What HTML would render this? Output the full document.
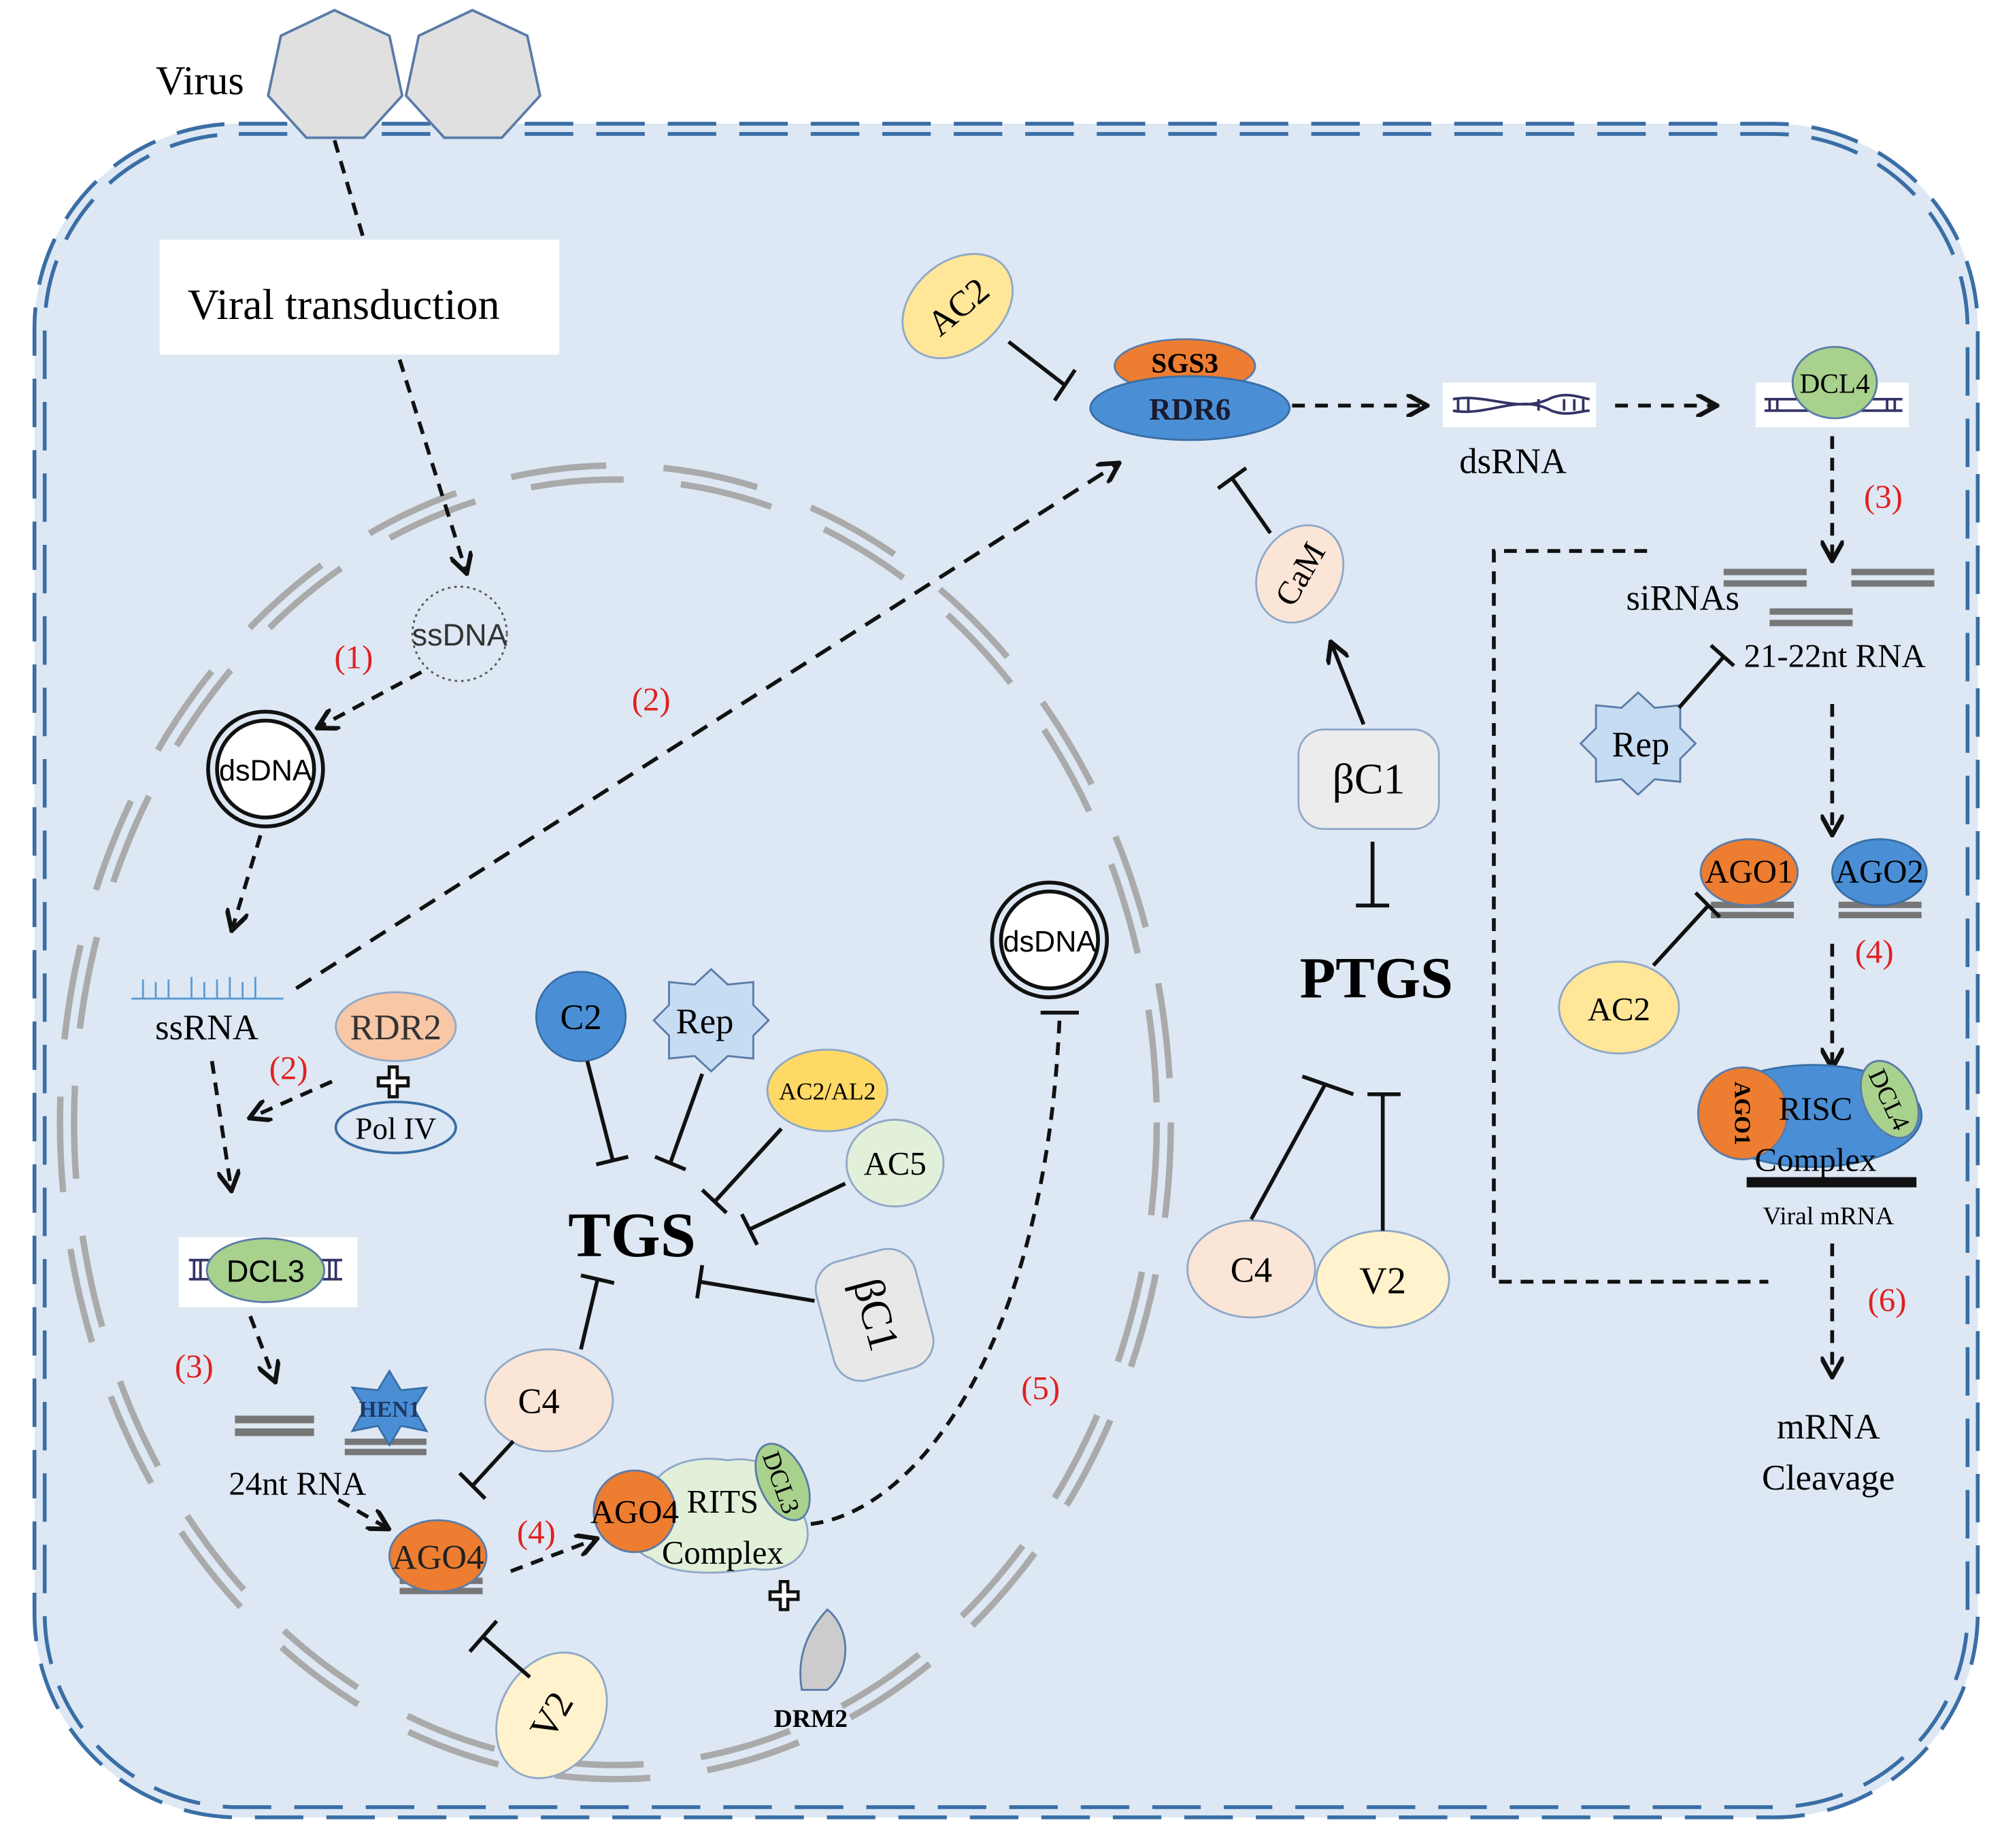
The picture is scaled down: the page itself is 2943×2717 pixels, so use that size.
<!DOCTYPE html>
<html><head><meta charset="utf-8"><style>
html,body{margin:0;padding:0;background:#fff;}
svg{display:block;}
text{font-family:"Liberation Serif",serif;}
</style></head><body>
<svg width="2943" height="2717" viewBox="0 0 1568 1449" preserveAspectRatio="none" xmlns="http://www.w3.org/2000/svg">
<defs>
<marker id="ar" viewBox="0 0 10 10" refX="8" refY="5" markerWidth="6" markerHeight="6" orient="auto"><path d="M0,0 L9,5 L0,10" fill="none" stroke="#111" stroke-width="2"/></marker>
</defs>
<!-- cell -->
<rect x="27" y="97" width="1522" height="1328" rx="160" fill="#dde8f4"/>
<rect x="27" y="97" width="1522" height="1328" rx="160" fill="none" stroke="#3a6ea5" stroke-width="3" stroke-dasharray="38 18"/>
<rect x="35" y="105" width="1506" height="1312" rx="152" fill="none" stroke="#3a6ea5" stroke-width="3" stroke-dasharray="38 18"/>
<!-- nucleus -->
<ellipse cx="482" cy="880" rx="435" ry="515" fill="none" stroke="#aaa" stroke-width="5" stroke-dasharray="75 45"/>
<ellipse cx="482" cy="880" rx="424" ry="504" fill="none" stroke="#aaa" stroke-width="5" stroke-dasharray="73 45"/>
<!-- virus -->
<polygon points="262,8 305,28 315,75 285,108 240,108 210,75 220,28" fill="#e0e0e0" stroke="#5a7ba8" stroke-width="2"/>
<polygon points="370,8 413,28 423,75 393,108 348,108 318,75 328,28" fill="#e0e0e0" stroke="#5a7ba8" stroke-width="2"/>
<text x="122" y="74" font-size="32">Virus</text>
<line x1="262" y1="110" x2="285" y2="188" stroke="#111" stroke-width="3" stroke-dasharray="10 7"/>
<rect x="125" y="188" width="313" height="90" fill="#fff"/>
<text x="147" y="250" font-size="34">Viral transduction</text>
<line x1="313" y1="282" x2="365" y2="448" stroke="#111" stroke-width="3" stroke-dasharray="10 7" marker-end="url(#ar)"/>
<circle cx="360" cy="497" r="37" fill="none" stroke="#555" stroke-width="1.5" stroke-dasharray="2 3"/>
<text x="360" y="506" font-size="24" text-anchor="middle" style="font-family:'Liberation Sans',sans-serif" fill="#333">ssDNA</text>
<text x="277" y="524" font-size="26" fill="#e02020" text-anchor="middle">(1)</text>
<line x1="330" y1="527" x2="250" y2="570" stroke="#111" stroke-width="3" stroke-dasharray="10 7" marker-end="url(#ar)"/>
<circle cx="208" cy="603" r="45" fill="none" stroke="#111" stroke-width="3"/>
<circle cx="208" cy="603" r="38" fill="#fff" stroke="#111" stroke-width="3"/>
<text x="208" y="612" font-size="23" text-anchor="middle" style="font-family:'Liberation Sans',sans-serif">dsDNA</text>
<line x1="204" y1="655" x2="182" y2="728" stroke="#111" stroke-width="3" stroke-dasharray="10 7" marker-end="url(#ar)"/>
<!-- ssRNA -->
<path d="M103,783 H222 M112,783 V768 M122,783 V770 M132,783 V768 M150,783 V766 M160,783 V770 M170,783 V768 M180,783 V766 M190,783 V770 M200,783 V766" stroke="#5b9bd5" stroke-width="1.5" fill="none"/>
<text x="162" y="815" font-size="28" text-anchor="middle">ssRNA</text>
<line x1="232" y1="775" x2="875" y2="364" stroke="#111" stroke-width="3" stroke-dasharray="14 9" marker-end="url(#ar)"/>
<text x="510" y="557" font-size="26" fill="#e02020" text-anchor="middle">(2)</text>
<ellipse cx="310" cy="805" rx="47" ry="27" fill="#f8c7a6" stroke="#8fa8c8" stroke-width="1.5"/>
<text x="310" y="815" font-size="28" text-anchor="middle" fill="#333">RDR2</text>
<text x="308" y="860" font-size="32" text-anchor="middle" font-weight="bold" fill="#fff" stroke="#111" stroke-width="1.5">✚</text>
<ellipse cx="310" cy="884" rx="47" ry="20" fill="#dde8f4" stroke="#3a6ea5" stroke-width="2"/>
<text x="310" y="893" font-size="24" text-anchor="middle">Pol IV</text>
<text x="226" y="846" font-size="26" fill="#e02020" text-anchor="middle">(2)</text>
<line x1="260" y1="848" x2="197" y2="876" stroke="#111" stroke-width="3" stroke-dasharray="10 7" marker-end="url(#ar)"/>
<line x1="166" y1="832" x2="181" y2="932" stroke="#111" stroke-width="3" stroke-dasharray="10 7" marker-end="url(#ar)"/>
<rect x="140" y="970" width="140" height="55" fill="#fff"/>
<path d="M148,988 H268 M148,1003 H268 M152,988 V1003 M157,988 V1003 M258,988 V1003 M263,988 V1003" stroke="#333366" stroke-width="2"/>
<ellipse cx="208" cy="996" rx="46" ry="25" fill="#a9d18e" stroke="#5a7ba8" stroke-width="1.5"/>
<text x="208" y="1005" font-size="24" text-anchor="middle" style="font-family:'Liberation Sans',sans-serif">DCL3</text>
<text x="152" y="1080" font-size="26" fill="#e02020" text-anchor="middle">(3)</text>
<line x1="196" y1="1032" x2="215" y2="1082" stroke="#111" stroke-width="3" stroke-dasharray="10 7" marker-end="url(#ar)"/>
<rect x="184" y="1110" width="62" height="6" fill="#777"/><rect x="184" y="1120" width="62" height="6" fill="#777"/>
<rect x="270" y="1128" width="64" height="5" fill="#777"/><rect x="270" y="1136" width="64" height="5" fill="#777"/>
<polygon points="305,1075 314,1090 334,1088 324,1104 334,1122 314,1118 305,1133 296,1118 276,1122 286,1104 276,1088 296,1090" fill="#4a8fd6" stroke="#3a6ea5" stroke-width="1.5"/>
<text x="305" y="1111" font-size="18" text-anchor="middle" font-weight="bold" fill="#1f3864">HEN1</text>
<text x="233" y="1172" font-size="26" text-anchor="middle">24nt RNA</text>
<line x1="265" y1="1176" x2="303" y2="1198" stroke="#111" stroke-width="3" stroke-dasharray="10 7" marker-end="url(#ar)"/>
<rect x="313" y="1237" width="65" height="5" fill="#777"/><rect x="313" y="1245" width="65" height="5" fill="#777"/>
<ellipse cx="343" cy="1220" rx="38" ry="28" fill="#ed7d31" stroke="#5a7ba8" stroke-width="1.5"/>
<text x="343" y="1230" font-size="27" text-anchor="middle" fill="#222">AGO4</text>
<text x="420" y="1210" font-size="26" fill="#e02020" text-anchor="middle">(4)</text>
<line x1="400" y1="1232" x2="466" y2="1207" stroke="#111" stroke-width="3" stroke-dasharray="10 7" marker-end="url(#ar)"/>
<!-- RITS -->
<path d="M505,1180 C510,1150 540,1140 570,1145 C600,1140 625,1160 630,1190 C640,1215 620,1235 590,1230 C560,1235 525,1235 510,1222 C490,1215 495,1195 505,1180Z" fill="#e2f0d9" stroke="#8fa8c8" stroke-width="1.5"/>
<circle cx="497" cy="1185" r="32" fill="#ed7d31" stroke="#5a7ba8" stroke-width="1.5"/>
<ellipse cx="613" cy="1162" rx="18" ry="32" transform="rotate(-25 613 1162)" fill="#a9d18e" stroke="#5a7ba8" stroke-width="1.5"/>
<text x="613" y="1170" font-size="20" text-anchor="middle" transform="rotate(70 613 1162)">DCL3</text>
<text x="497" y="1194" font-size="26" text-anchor="middle">AGO4</text>
<text x="566" y="1186" font-size="26" text-anchor="middle">RITS</text>
<text x="566" y="1226" font-size="26" text-anchor="middle">Complex</text>
<text x="614" y="1262" font-size="30" text-anchor="middle" font-weight="bold" fill="#fff" stroke="#111" stroke-width="1.5">✚</text>
<path d="M648,1262 A32,38 0 0 1 648,1325 L628,1325 Q622,1290 648,1262Z" fill="#ccc" stroke="#5a7ba8" stroke-width="1.5"/>
<text x="635" y="1354" font-size="20" text-anchor="middle" font-weight="bold">DRM2</text>
<path d="M635,1195 C720,1185 820,1050 830,795" fill="none" stroke="#111" stroke-width="3" stroke-dasharray="10 7"/>
<line x1="815" y1="794" x2="845" y2="794" stroke="#111" stroke-width="3"/>
<circle cx="822" cy="737" r="45" fill="none" stroke="#111" stroke-width="3"/>
<circle cx="822" cy="737" r="38" fill="#fff" stroke="#111" stroke-width="3"/>
<text x="822" y="746" font-size="23" text-anchor="middle" style="font-family:'Liberation Sans',sans-serif">dsDNA</text>
<text x="815" y="1097" font-size="26" fill="#e02020" text-anchor="middle">(5)</text>
<!-- V2 bottom -->
<ellipse cx="432" cy="1345" rx="40" ry="52" transform="rotate(30 432 1345)" fill="#fff2cc" stroke="#8fa8c8" stroke-width="1.5"/>
<text x="432" y="1355" font-size="30" text-anchor="middle" transform="rotate(-60 432 1345)">V2</text>
<line x1="415" y1="1315" x2="378" y2="1283" stroke="#111" stroke-width="3"/>
<line x1="368" y1="1295" x2="389" y2="1271" stroke="#111" stroke-width="3"/>
<!-- C4 nucleus -->
<ellipse cx="430" cy="1098" rx="50" ry="40" fill="#fbe5d6" stroke="#8fa8c8" stroke-width="1.5"/>
<text x="422" y="1108" font-size="28" text-anchor="middle">C4</text>
<line x1="455" y1="1058" x2="468" y2="1003" stroke="#111" stroke-width="3"/>
<line x1="455" y1="1000" x2="481" y2="1006" stroke="#111" stroke-width="3"/>
<line x1="402" y1="1130" x2="370" y2="1165" stroke="#111" stroke-width="3"/>
<line x1="360" y1="1155" x2="380" y2="1175" stroke="#111" stroke-width="3"/>
<text x="495" y="985" font-size="50" text-anchor="middle" font-weight="bold">TGS</text>
<!-- TGS suppressors -->
<circle cx="455" cy="797" r="35" fill="#4a8fd6" stroke="#3a6ea5" stroke-width="1.5"/>
<text x="455" y="807" font-size="28" text-anchor="middle">C2</text>
<line x1="460" y1="832" x2="480" y2="910" stroke="#111" stroke-width="3"/><line x1="467" y1="913" x2="492" y2="907" stroke="#111" stroke-width="3"/>
<polygon points="557,760 570,772 590,770 590,788 602,800 590,812 590,830 570,828 557,840 544,828 524,830 524,812 512,800 524,788 524,770 544,772" fill="#c5dcf2" stroke="#5a7ba8" stroke-width="1.5"/>
<text x="552" y="810" font-size="28" text-anchor="middle">Rep</text>
<line x1="550" y1="842" x2="525" y2="912" stroke="#111" stroke-width="3"/><line x1="513" y1="907" x2="537" y2="917" stroke="#111" stroke-width="3"/>
<ellipse cx="648" cy="855" rx="47" ry="32" fill="#ffd966" stroke="#8fa8c8" stroke-width="1.5"/>
<text x="648" y="862" font-size="19" text-anchor="middle">AC2/AL2</text>
<line x1="612" y1="885" x2="560" y2="942" stroke="#111" stroke-width="3"/><line x1="550" y1="933" x2="569" y2="951" stroke="#111" stroke-width="3"/>
<ellipse cx="701" cy="912" rx="38" ry="34" fill="#e2f0d9" stroke="#8fa8c8" stroke-width="1.5"/>
<text x="701" y="921" font-size="26" text-anchor="middle">AC5</text>
<line x1="662" y1="928" x2="587" y2="964" stroke="#111" stroke-width="3"/><line x1="581" y1="952" x2="593" y2="976" stroke="#111" stroke-width="3"/>
<rect x="645" y="983" width="80" height="96" rx="22" transform="rotate(-15 685 1031)" fill="#e8e8e8" stroke="#8fa8c8" stroke-width="1.5"/>
<text x="685" y="1041" font-size="34" text-anchor="middle" transform="rotate(75 685 1031)">βC1</text>
<line x1="638" y1="1020" x2="548" y2="1005" stroke="#111" stroke-width="3"/><line x1="550" y1="992" x2="546" y2="1018" stroke="#111" stroke-width="3"/>
<!-- RDR6 -->
<ellipse cx="750" cy="240" rx="35" ry="48" transform="rotate(50 750 240)" fill="#ffe699" stroke="#8fa8c8" stroke-width="1.5"/>
<text x="750" y="250" font-size="28" text-anchor="middle" transform="rotate(-40 750 240)">AC2</text>
<line x1="790" y1="268" x2="834" y2="302" stroke="#111" stroke-width="3"/><line x1="826" y1="314" x2="842" y2="290" stroke="#111" stroke-width="3"/>
<ellipse cx="928" cy="287" rx="55" ry="21" fill="#ed7d31" stroke="#5a7ba8" stroke-width="1.5"/>
<ellipse cx="932" cy="320" rx="78" ry="25" fill="#4a8fd6" stroke="#3a6ea5" stroke-width="1.5"/>
<text x="928" y="292" font-size="22" text-anchor="middle" font-weight="bold">SGS3</text>
<text x="932" y="329" font-size="24" text-anchor="middle" font-weight="bold" fill="#1a1a2e">RDR6</text>
<line x1="1012" y1="318" x2="1116" y2="318" stroke="#111" stroke-width="3" stroke-dasharray="10 8" marker-end="url(#ar)"/>
<rect x="1130" y="300" width="120" height="35" fill="#fff"/>
<path d="M1138,313 C1165,308 1190,325 1215,312 C1228,307 1238,312 1245,313 M1138,322 C1165,327 1190,308 1215,322 C1228,327 1238,322 1245,322 M1142,313 V322 M1150,313 V322 M1205,313 V322 M1225,313 V322 M1233,313 V322 M1240,313 V322" stroke="#333366" stroke-width="2" fill="none"/>
<text x="1185" y="371" font-size="28" text-anchor="middle">dsRNA</text>
<line x1="1265" y1="318" x2="1343" y2="318" stroke="#111" stroke-width="3" stroke-dasharray="10 8" marker-end="url(#ar)"/>
<rect x="1375" y="300" width="120" height="35" fill="#fff"/>
<path d="M1382,313 H1490 M1382,322 H1490 M1386,313 V322 M1392,313 V322 M1478,313 V322 M1484,313 V322" stroke="#333366" stroke-width="2"/>
<ellipse cx="1437" cy="300" rx="33" ry="28" fill="#a9d18e" stroke="#5a7ba8" stroke-width="1.5"/>
<text x="1437" y="308" font-size="22" text-anchor="middle">DCL4</text>
<text x="1475" y="398" font-size="26" fill="#e02020" text-anchor="middle">(3)</text>
<line x1="1435" y1="342" x2="1435" y2="438" stroke="#111" stroke-width="3" stroke-dasharray="10 7" marker-end="url(#ar)"/>
<rect x="1350" y="446" width="65" height="5" fill="#777"/><rect x="1350" y="455" width="65" height="5" fill="#777"/>
<rect x="1450" y="446" width="65" height="5" fill="#777"/><rect x="1450" y="455" width="65" height="5" fill="#777"/>
<rect x="1386" y="477" width="65" height="5" fill="#777"/><rect x="1386" y="486" width="65" height="5" fill="#777"/>
<text x="1318" y="478" font-size="28" text-anchor="middle">siRNAs</text>
<text x="1437" y="523" font-size="26" text-anchor="middle">21-22nt RNA</text>
<polygon points="1283,543 1296,555 1316,553 1316,571 1328,583 1316,595 1316,613 1296,611 1283,623 1270,611 1250,613 1250,595 1238,583 1250,571 1250,553 1270,555" fill="#c5dcf2" stroke="#5a7ba8" stroke-width="1.5"/>
<text x="1285" y="593" font-size="28" text-anchor="middle">Rep</text>
<line x1="1315" y1="555" x2="1350" y2="515" stroke="#111" stroke-width="3"/><line x1="1340" y1="506" x2="1358" y2="522" stroke="#111" stroke-width="3"/>
<line x1="1435" y1="552" x2="1435" y2="653" stroke="#111" stroke-width="3" stroke-dasharray="10 7" marker-end="url(#ar)"/>
<rect x="1340" y="707" width="65" height="5" fill="#777"/><rect x="1340" y="715" width="65" height="5" fill="#777"/>
<rect x="1440" y="707" width="65" height="5" fill="#777"/><rect x="1440" y="715" width="65" height="5" fill="#777"/>
<ellipse cx="1370" cy="684" rx="38" ry="26" fill="#ed7d31" stroke="#5a7ba8" stroke-width="1.5"/>
<text x="1370" y="692" font-size="26" text-anchor="middle">AGO1</text>
<ellipse cx="1472" cy="684" rx="37" ry="26" fill="#4a8fd6" stroke="#3a6ea5" stroke-width="1.5"/>
<text x="1472" y="692" font-size="26" text-anchor="middle">AGO2</text>
<ellipse cx="1268" cy="790" rx="47" ry="36" fill="#ffe699" stroke="#8fa8c8" stroke-width="1.5"/>
<text x="1268" y="800" font-size="26" text-anchor="middle">AC2</text>
<line x1="1295" y1="757" x2="1338" y2="710" stroke="#111" stroke-width="3"/><line x1="1328" y1="700" x2="1347" y2="719" stroke="#111" stroke-width="3"/>
<text x="1468" y="755" font-size="26" fill="#e02020" text-anchor="middle">(4)</text>
<line x1="1435" y1="740" x2="1435" y2="836" stroke="#111" stroke-width="3" stroke-dasharray="10 7" marker-end="url(#ar)"/>
<!-- RISC -->
<ellipse cx="1420" cy="875" rx="85" ry="40" fill="#4a8fd6" stroke="#3a6ea5" stroke-width="1.5"/>
<ellipse cx="1480" cy="862" rx="20" ry="32" transform="rotate(-25 1480 862)" fill="#a9d18e" stroke="#5a7ba8" stroke-width="1.5"/>
<text x="1480" y="869" font-size="20" text-anchor="middle" transform="rotate(65 1480 862)">DCL4</text>
<ellipse cx="1365" cy="873" rx="35" ry="36" fill="#ed7d31" stroke="#5a7ba8" stroke-width="1.5"/>
<text x="1365" y="879" font-size="18" text-anchor="middle" font-weight="bold" transform="rotate(90 1365 873)">AGO1</text>
<text x="1422" y="878" font-size="26" text-anchor="middle">RISC</text>
<text x="1422" y="918" font-size="26" text-anchor="middle">Complex</text>
<rect x="1368" y="923" width="133" height="8" fill="#111"/>
<text x="1432" y="960" font-size="20" text-anchor="middle">Viral mRNA</text>
<text x="1478" y="1028" font-size="26" fill="#e02020" text-anchor="middle">(6)</text>
<line x1="1435" y1="975" x2="1435" y2="1078" stroke="#111" stroke-width="3" stroke-dasharray="10 7" marker-end="url(#ar)"/>
<text x="1432" y="1128" font-size="28" text-anchor="middle">mRNA</text>
<text x="1432" y="1168" font-size="28" text-anchor="middle">Cleavage</text>
<polyline points="1290,432 1170,432 1170,1005 1385,1005" fill="none" stroke="#111" stroke-width="3" stroke-dasharray="10 7"/>
<!-- PTGS -->
<text x="1078" y="782" font-size="46" text-anchor="middle" font-weight="bold">PTGS</text>
<rect x="1017" y="572" width="110" height="78" rx="20" fill="#ececec" stroke="#8fa8c8" stroke-width="1.5"/>
<text x="1072" y="622" font-size="34" text-anchor="middle">βC1</text>
<line x1="1075" y1="660" x2="1075" y2="710" stroke="#111" stroke-width="3"/><line x1="1062" y1="710" x2="1088" y2="710" stroke="#111" stroke-width="3"/>
<line x1="1068" y1="568" x2="1043" y2="505" stroke="#111" stroke-width="3" marker-end="url(#ar)"/>
<ellipse cx="1018" cy="450" rx="32" ry="40" transform="rotate(30 1018 450)" fill="#fbe5d6" stroke="#8fa8c8" stroke-width="1.5"/>
<text x="1018" y="459" font-size="26" text-anchor="middle" transform="rotate(-60 1018 450)">CaM</text>
<line x1="995" y1="418" x2="965" y2="375" stroke="#111" stroke-width="3"/><line x1="954" y1="383" x2="976" y2="367" stroke="#111" stroke-width="3"/>
<ellipse cx="980" cy="995" rx="50" ry="38" fill="#fbe5d6" stroke="#8fa8c8" stroke-width="1.5"/>
<text x="980" y="1005" font-size="28" text-anchor="middle">C4</text>
<ellipse cx="1083" cy="1003" rx="52" ry="38" fill="#fff2cc" stroke="#8fa8c8" stroke-width="1.5"/>
<text x="1083" y="1014" font-size="30" text-anchor="middle">V2</text>
<line x1="980" y1="956" x2="1038" y2="850" stroke="#111" stroke-width="3"/><line x1="1020" y1="844" x2="1060" y2="858" stroke="#111" stroke-width="3"/>
<line x1="1083" y1="965" x2="1083" y2="858" stroke="#111" stroke-width="3"/><line x1="1071" y1="858" x2="1097" y2="858" stroke="#111" stroke-width="3"/>
</svg>
</body></html>
